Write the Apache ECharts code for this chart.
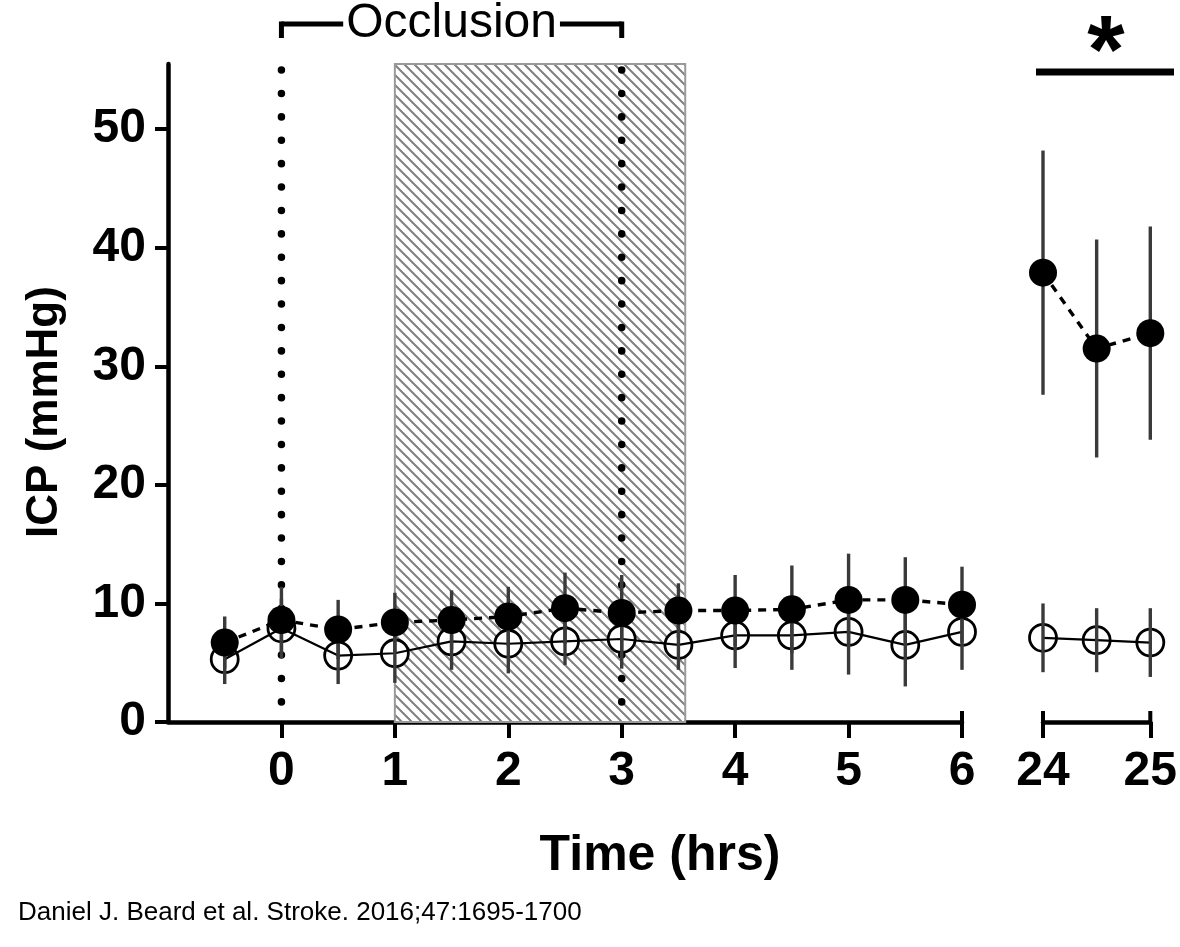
<!DOCTYPE html>
<html><head><meta charset="utf-8">
<script src="https://cdn.jsdelivr.net/npm/echarts@6/dist/echarts.min.js"></script>
<style>html,body{margin:0;padding:0;background:#fff}#c{width:1180px;height:947px}</style>
</head><body><div id="c"></div>
<script>
// ---- data ----
const earlyTimes = [-0.5, 0, 0.5, 1, 1.5, 2, 2.5, 3, 3.5, 4, 4.5, 5, 5.5, 6];
const earlyTickValues = [0, 1, 2, 3, 4, 5, 6];
const filledEarlyMean = [6.7, 8.6, 7.8, 8.4, 8.6, 8.9, 9.6, 9.2, 9.4, 9.4, 9.5, 10.3, 10.3, 9.9];
const filledEarlyErr  = [2.2, 2.8, 2.5, 2.5, 2.5, 2.5, 3.0, 3.2, 2.3, 3.0, 3.7, 3.9, 3.6, 3.2];
const openEarlyMean   = [5.3, 7.9, 5.6, 5.8, 6.8, 6.6, 6.8, 7.0, 6.5, 7.3, 7.3, 7.6, 6.5, 7.6];
const openEarlyErr    = [2.1, 2.5, 2.4, 2.5, 2.4, 2.5, 2.0, 2.5, 2.1, 2.75, 2.9, 3.6, 3.5, 3.2];
const lateTimes = [24, 24.5, 25];
const lateTickValues = [24, 25];
const filledLateMean = [37.9, 31.5, 32.8];
const filledLateErr  = [10.3, 9.2, 9.0];
const openLateMean   = [7.1, 6.9, 6.7];
const openLateErr    = [2.9, 2.7, 2.9];
const yTickValues = [0, 10, 20, 30, 40, 50];
const occlusionBand = [1, 3.56];   // hatched region (hrs)
const dottedTimes = [0, 3];        // dotted vertical markers (hrs)
const occlusionBracket = [0, 3];
const yMax = 55.5;

const FONT = '"Liberation Sans", Arial, sans-serif';

// hatch pattern
const hc = document.createElement('canvas');
hc.width = 10; hc.height = 10;
(function(){
  const g = hc.getContext('2d');
  g.fillStyle = '#fff'; g.fillRect(0,0,10,10);
  g.strokeStyle = '#808080'; g.lineWidth = 2;
  g.beginPath();
  g.moveTo(-5,-5); g.lineTo(15,15);
  g.moveTo(-5,5); g.lineTo(5,15);
  g.moveTo(5,-5); g.lineTo(15,5);
  g.stroke();
})();

const pair = (t, m) => t.map((x, i) => [x, m[i]]);
const errData = (t, m, e) => t.map((x, i) => [x, m[i] - e[i], m[i] + e[i]]);

function errSeries(gi, t, m, e, z) {
  return {
    type: 'custom', xAxisIndex: gi, yAxisIndex: gi, z: z,
    encode: { x: 0, y: [1, 2] },
    data: errData(t, m, e),
    renderItem: (p, api) => {
      const a = api.coord([api.value(0), api.value(1)]);
      const b = api.coord([api.value(0), api.value(2)]);
      return { type: 'line', shape: { x1: a[0], y1: a[1], x2: b[0], y2: b[1] },
        style: { stroke: '#3a3a3a', lineWidth: 3.4 } };
    }
  };
}
function openCircles(gi, t, m) {
  return { type: 'scatter', xAxisIndex: gi, yAxisIndex: gi, z: 3, clip: false,
    data: pair(t, m), symbol: 'circle', symbolSize: 27,
    itemStyle: { color: '#fff', borderColor: '#000', borderWidth: 2.8, opacity: 1 } };
}
function openLine(gi, t, m) {
  return { type: 'line', xAxisIndex: gi, yAxisIndex: gi, z: 4, clip: false,
    data: pair(t, m), symbol: 'none',
    lineStyle: { color: '#000', width: 2.2 } };
}
function filledLine(gi, t, m) {
  return { type: 'line', xAxisIndex: gi, yAxisIndex: gi, z: 6, clip: false,
    data: pair(t, m), symbol: 'none',
    lineStyle: { color: '#000', width: 3.4, type: [8, 7] } };
}
function filledCircles(gi, t, m) {
  return { type: 'scatter', xAxisIndex: gi, yAxisIndex: gi, z: 7, clip: false,
    data: pair(t, m), symbol: 'circle', symbolSize: 28,
    itemStyle: { color: '#000', opacity: 1 } };
}

const chart = echarts.init(document.getElementById('c'));

const labelStyle = { fontFamily: FONT, fontWeight: 'bold', fontSize: 48, color: '#000' };

chart.setOption({
  animation: false,
  backgroundColor: '#fff',
  grid: [
    { left: 168, right: 218, top: 64, bottom: 225 },
    { left: 1043, right: 27, top: 64, bottom: 225 }
  ],
  xAxis: [
    { gridIndex: 0, type: 'value', min: -1, max: 6, interval: 1,
      axisLine: { lineStyle: { color: '#000', width: 4.5 } },
      axisTick: { customValues: earlyTickValues, length: 16, lineStyle: { color: '#000', width: 4 } },
      axisLabel: Object.assign({ customValues: earlyTickValues, margin: 26 }, labelStyle),
      splitLine: { show: false } },
    { gridIndex: 1, type: 'value', min: 24, max: 25, interval: 1,
      axisLine: { lineStyle: { color: '#000', width: 4.5 } },
      axisTick: { customValues: lateTickValues, length: 16, lineStyle: { color: '#000', width: 4 } },
      axisLabel: Object.assign({ customValues: lateTickValues, margin: 26 }, labelStyle),
      splitLine: { show: false } }
  ],
  yAxis: [
    { gridIndex: 0, type: 'value', min: 0, max: yMax, interval: 10,
      axisLine: { show: true, onZero: false, lineStyle: { color: '#000', width: 4.5 } },
      axisTick: { show: true, customValues: yTickValues, length: 13, lineStyle: { color: '#000', width: 4 } },
      axisLabel: Object.assign({ customValues: yTickValues, margin: 22 }, labelStyle),
      splitLine: { show: false } },
    { gridIndex: 1, type: 'value', min: 0, max: yMax, interval: 10, show: false, splitLine: { show: false } }
  ],
  series: [
    { type: 'custom', xAxisIndex: 0, yAxisIndex: 0, z: 1,
      data: [occlusionBand],
      encode: { x: [0, 1] },
      renderItem: (p, api) => {
        const a = api.coord([api.value(0), yMax]);
        const b = api.coord([api.value(1), 0]);
        return { type: 'rect', shape: { x: a[0], y: a[1], width: b[0] - a[0], height: b[1] - a[1] },
          style: { fill: { image: hc, repeat: 'repeat' }, stroke: '#9a9a9a', lineWidth: 2 } };
      } },
    { type: 'custom', xAxisIndex: 0, yAxisIndex: 0, z: 2,
      data: dottedTimes.map(t => [t]),
      encode: { x: 0 },
      renderItem: (p, api) => {
        const top = api.coord([api.value(0), yMax]);
        const bot = api.coord([api.value(0), 0]);
        return { type: 'line', shape: { x1: top[0], y1: top[1] + 6, x2: bot[0], y2: bot[1] },
          style: { stroke: '#000', lineWidth: 7.5, lineDash: [0.1, 23.3], lineCap: 'round' } };
      } },
    openCircles(0, earlyTimes, openEarlyMean),
    openCircles(1, lateTimes, openLateMean),
    openLine(0, earlyTimes, openEarlyMean),
    openLine(1, lateTimes, openLateMean),
    errSeries(0, earlyTimes, openEarlyMean, openEarlyErr, 5),
    errSeries(1, lateTimes, openLateMean, openLateErr, 5),
    errSeries(0, earlyTimes, filledEarlyMean, filledEarlyErr, 5),
    errSeries(1, lateTimes, filledLateMean, filledLateErr, 5),
    filledLine(0, earlyTimes, filledEarlyMean),
    filledLine(1, lateTimes, filledLateMean),
    filledCircles(0, earlyTimes, filledEarlyMean),
    filledCircles(1, lateTimes, filledLateMean)
  ]
});

// annotations positioned from the axes
const px = (gi, x, y) => chart.convertToPixel({ gridIndex: gi }, [x, y]);
const b0 = px(0, occlusionBracket[0], 0), b1 = px(0, occlusionBracket[1], 0);
const e6 = px(0, 6, 0), e24 = px(1, 24, 0), e25 = px(1, 25, 0);
const brY = 24, brCx = (b0[0] + b1[0]) / 2;
const endCap = p => ({ type: 'line', shape: { x1: p[0], y1: p[1], x2: p[0], y2: p[1] - 11 },
  style: { stroke: '#000', lineWidth: 4 } });

chart.setOption({
  graphic: [
    { type: 'line', shape: { x1: b0[0], y1: brY, x2: b1[0], y2: brY }, style: { stroke: '#000', lineWidth: 5 } },
    { type: 'line', shape: { x1: b0[0], y1: brY - 2.5, x2: b0[0], y2: 38 }, style: { stroke: '#000', lineWidth: 5 } },
    { type: 'line', shape: { x1: b1[0], y1: brY - 2.5, x2: b1[0], y2: 38 }, style: { stroke: '#000', lineWidth: 5 } },
    { type: 'text', x: brCx, y: 24, z: 10,
      style: { text: 'Occlusion', font: 'normal 48px ' + FONT, fill: '#000', align: 'center', verticalAlign: 'middle',
        backgroundColor: '#fff', padding: [0, 3] } },
    endCap(e6), endCap(e24), endCap(e25),
    { type: 'line', shape: { x1: 1036, y1: 72, x2: 1174, y2: 72 }, style: { stroke: '#000', lineWidth: 7 } },
    { type: 'text', x: 1106, y: 56, style: { text: '*', font: 'bold 96px ' + FONT, fill: '#000', align: 'center', verticalAlign: 'middle' } },
    { type: 'text', x: 45, y: 412, rotation: Math.PI / 2,
      style: { text: 'ICP (mmHg)', font: 'bold 44px ' + FONT, fill: '#000', align: 'center', verticalAlign: 'middle' } },
    { type: 'text', x: 660, y: 856,
      style: { text: 'Time (hrs)', font: 'bold 50px ' + FONT, fill: '#000', align: 'center', verticalAlign: 'middle' } },
    { type: 'text', x: 18, y: 913,
      style: { text: 'Daniel J. Beard et al. Stroke. 2016;47:1695-1700', font: 'normal 26px ' + FONT, fill: '#000', align: 'left', verticalAlign: 'middle' } }
  ]
});
</script>
</body></html>
